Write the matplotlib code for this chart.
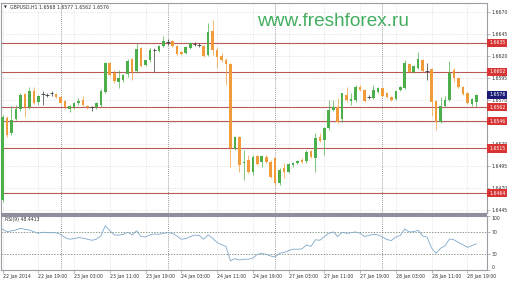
import numpy as np
import matplotlib
matplotlib.use("Agg")
import matplotlib.pyplot as plt
from matplotlib.patches import Rectangle

plt.rcParams['font.family'] = ['DejaVu Sans']

# ---------------- data ----------------
symbol_title = "GBPUSD,H1 1.6568 1.6577 1.6562 1.6576"
watermark = "www.freshforex.ru"
rsi_title = "RSI(9) 48.4413"

opens = [
    1.6456, 1.6550, 1.6532, 1.6548, 1.6560, 1.6577, 1.6562, 1.6580, 1.6568, 1.6577,
    1.6576, 1.6578, 1.6577, 1.6573, 1.6569, 1.6560, 1.6562, 1.6567, 1.6570, 1.6563,
    1.6562, 1.6562, 1.6564, 1.6579, 1.6612, 1.6601, 1.6590, 1.6593, 1.6600, 1.6617,
    1.6603, 1.6629, 1.6610, 1.6615, 1.6627, 1.6626, 1.6631, 1.6636, 1.6637, 1.6631,
    1.6625, 1.6623, 1.6629, 1.6634, 1.6633, 1.6631, 1.6621, 1.6648, 1.6627, 1.6620,
    1.6616, 1.6611, 1.6514, 1.6528, 1.6498, 1.6502, 1.6488, 1.6506, 1.6500, 1.6505,
    1.6500, 1.6504, 1.6476, 1.6493, 1.6488, 1.6496, 1.6498, 1.6502, 1.6501, 1.6512,
    1.6504, 1.6528, 1.6525, 1.6538, 1.6559, 1.6562, 1.6548, 1.6576, 1.6569, 1.6570,
    1.6585, 1.6581, 1.6573, 1.6572, 1.6579, 1.6584, 1.6578, 1.6573, 1.6571, 1.6581,
    1.6584, 1.6611, 1.6602, 1.6606, 1.6616, 1.6603, 1.6605, 1.6569, 1.6545, 1.6563,
    1.6570, 1.6604, 1.6595, 1.6585, 1.6578, 1.6566, 1.6568]

highs = [
    1.6553, 1.6552, 1.6563, 1.6564, 1.6578, 1.6578, 1.6585, 1.6585, 1.6576, 1.6580,
    1.6578, 1.6580, 1.6578, 1.6575, 1.6570, 1.6564, 1.6568, 1.6572, 1.6575, 1.6564,
    1.6563, 1.6568, 1.6583, 1.6613, 1.6613, 1.6604, 1.6604, 1.6600, 1.6617, 1.6618,
    1.6635, 1.6630, 1.6616, 1.6629, 1.6629, 1.6633, 1.6643, 1.6639, 1.6638, 1.6633,
    1.6626, 1.6631, 1.6636, 1.6636, 1.6635, 1.6633, 1.6658, 1.6661, 1.6630, 1.6623,
    1.6618, 1.6612, 1.6529, 1.6529, 1.6513, 1.6508, 1.6508, 1.6508, 1.6508, 1.6507,
    1.6502, 1.6505, 1.6493, 1.6498, 1.6498, 1.6500, 1.6502, 1.6504, 1.6513, 1.6513,
    1.6532, 1.6533, 1.6539, 1.6570, 1.6570, 1.6572, 1.6578, 1.6585, 1.6578, 1.6587,
    1.6587, 1.6582, 1.6576, 1.6587, 1.6585, 1.6585, 1.6579, 1.6575, 1.6581, 1.6586,
    1.6616, 1.6612, 1.6610, 1.6625, 1.6617, 1.6612, 1.6606, 1.6570, 1.6573, 1.6574,
    1.6614, 1.6606, 1.6596, 1.6586, 1.6579, 1.6572, 1.6577]

lows = [
    1.6454, 1.6528, 1.6530, 1.6547, 1.6557, 1.6551, 1.6560, 1.6565, 1.6564, 1.6564,
    1.6573, 1.6575, 1.6572, 1.6565, 1.6560, 1.6556, 1.6560, 1.6564, 1.6563, 1.6560,
    1.6558, 1.6560, 1.6562, 1.6578, 1.6597, 1.6589, 1.6584, 1.6590, 1.6596, 1.6593,
    1.6601, 1.6607, 1.6609, 1.6613, 1.6602, 1.6625, 1.6630, 1.6633, 1.6630, 1.6621,
    1.6621, 1.6622, 1.6628, 1.6631, 1.6630, 1.6619, 1.6620, 1.6621, 1.6606, 1.6613,
    1.6587, 1.6494, 1.6513, 1.6488, 1.6479, 1.6487, 1.6485, 1.6496, 1.6494, 1.6498,
    1.6481, 1.6473, 1.6473, 1.6481, 1.6487, 1.6494, 1.6497, 1.6498, 1.6498, 1.6504,
    1.6488, 1.6522, 1.6508, 1.6536, 1.6558, 1.6544, 1.6545, 1.6568, 1.6564, 1.6568,
    1.6580, 1.6568, 1.6571, 1.6571, 1.6578, 1.6573, 1.6572, 1.6569, 1.6570, 1.6580,
    1.6583, 1.6601, 1.6601, 1.6605, 1.6602, 1.6593, 1.6552, 1.6536, 1.6544, 1.6562,
    1.6569, 1.6590, 1.6584, 1.6576, 1.6565, 1.6563, 1.6562]

closes = [
    1.6551, 1.6530, 1.6547, 1.6560, 1.6576, 1.6562, 1.6580, 1.6567, 1.6575, 1.6577,
    1.6576, 1.6578, 1.6573, 1.6567, 1.6562, 1.6563, 1.6567, 1.6569, 1.6564, 1.6562,
    1.6562, 1.6567, 1.6580, 1.6612, 1.6598, 1.6592, 1.6595, 1.6598, 1.6614, 1.6602,
    1.6628, 1.6609, 1.6615, 1.6627, 1.6627, 1.6631, 1.6637, 1.6636, 1.6631, 1.6622,
    1.6622, 1.6630, 1.6635, 1.6634, 1.6633, 1.6620, 1.6647, 1.6627, 1.6619, 1.6616,
    1.6611, 1.6515, 1.6528, 1.6496, 1.6500, 1.6488, 1.6505, 1.6497, 1.6506, 1.6500,
    1.6482, 1.6476, 1.6490, 1.6488, 1.6497, 1.6498, 1.6501, 1.6500, 1.6511, 1.6505,
    1.6527, 1.6523, 1.6538, 1.6559, 1.6562, 1.6545, 1.6578, 1.6570, 1.6571, 1.6585,
    1.6581, 1.6569, 1.6573, 1.6581, 1.6584, 1.6575, 1.6573, 1.6570, 1.6580, 1.6585,
    1.6612, 1.6602, 1.6609, 1.6617, 1.6603, 1.6603, 1.6568, 1.6545, 1.6563, 1.6570,
    1.6601, 1.6595, 1.6585, 1.6577, 1.6567, 1.6571, 1.6576]

rsi = [
    75.5, 71, 72.5, 74, 77, 75.5, 74, 71, 68, 70,
    69, 69, 69, 66, 60, 57, 58, 60, 59, 57,
    55, 57, 63, 82, 73, 65, 64.5, 66, 70, 65,
    72.5, 62, 61, 65, 67, 66, 68, 69, 68, 63,
    57, 58, 62, 64.5, 64, 57, 65, 59, 51, 47,
    43.5, 17, 21, 18.5, 20, 20, 22, 29, 30.6, 29,
    26, 24, 31, 32.5, 36, 38.5, 38.5, 39, 46.5, 43.5,
    56, 55, 62, 68, 70.5, 62, 70, 68, 69, 70.5,
    68, 62, 64, 66, 65, 61, 56.5, 54.5, 61, 64,
    76, 70.5, 71, 73.5, 63, 61, 40.5, 31, 40, 45,
    57.5, 56, 51, 47, 42, 45, 48.44]

levels = [1.6635, 1.6602, 1.6562, 1.6546, 1.6515, 1.6464]
current_price = 1.6576
price_ticks = [1.6670, 1.6645, 1.6620, 1.6595, 1.6570, 1.6545, 1.6520, 1.6495, 1.6470, 1.6445]
hidden_price_ticks = [1.6545]   # covered by the 1.6546 level label in the reference
rsi_ticks = [0, 30, 70, 100]
rsi_levels = [30, 70]

time_tick_bars = [0, 8, 16, 24, 32, 40, 48, 56, 64, 72, 80, 88, 96, 104]
time_tick_labels = ["22 Jan 2014", "22 Jan 19:00", "23 Jan 03:00", "23 Jan 11:00",
                    "23 Jan 19:00", "24 Jan 03:00", "24 Jan 11:00", "24 Jan 19:00",
                    "27 Jan 03:00", "27 Jan 11:00", "27 Jan 19:00", "28 Jan 03:00",
                    "28 Jan 11:00", "28 Jan 19:00"]
day_start_bars = [13, 37, 61, 85]

# ---------------- style ----------------
W, H = 510, 283
BULL = '#4caf4c'
BEAR = '#f29b3a'
DOJI = '#3a3a3a'
LEVEL_LINE = '#b85a56'
LEVEL_BOX = '#d83434'
CUR_BOX = '#1c1c78'
FRAME = '#9c9ca4'
GRID = '#d6d6d6'
TXT = '#303030'
FS = 3.3


def px_rect(x0, y0, x1, y1):
    return [x0 / W, 1 - y1 / H, (x1 - x0) / W, (y1 - y0) / H]


fig = plt.figure(figsize=(W / 100, H / 100), dpi=100)
fig.patch.set_facecolor('white')

ax = fig.add_axes(px_rect(1, 3, 487, 213))
ax2 = fig.add_axes(px_rect(1, 216, 487, 270), sharex=ax)

n = len(opens)
x = np.arange(n)
o = np.array(opens)
h = np.array(highs)
l = np.array(lows)
c = np.array(closes)

ax.set_xlim(-0.34, 108.4)
ax.set_ylim(1.64416, 1.66802)

# grid
ax.set_yticks(price_ticks)
ax.set_yticklabels(["" if p in hidden_price_ticks else f"{p:.4f}" for p in price_ticks])
ax.set_xticks(time_tick_bars)
ax.grid(True, color=GRID, linestyle=(0, (1, 1.5)), linewidth=0.5, zorder=0)
ax.set_axisbelow(True)

# level lines
for lv in levels:
    ax.axhline(lv, color=LEVEL_LINE, linewidth=0.8, zorder=1.5)

# day separators
for d in day_start_bars:
    ax.axvline(d, color='#404040', linestyle=(0, (1, 2)), linewidth=0.5, zorder=1.6)
    ax2.axvline(d, color='#404040', linestyle=(0, (1, 2)), linewidth=0.5, zorder=1.6)

# candles
is_doji = o == c
is_bull = c > o
colors = np.where(is_doji, DOJI, np.where(is_bull, BULL, BEAR))
ax.vlines(x, l, h, colors=colors, linewidth=0.5, zorder=3)
body_mask = ~is_doji
ax.bar(x[body_mask], np.abs(c - o)[body_mask], bottom=np.minimum(o, c)[body_mask],
       width=0.58, color=colors[body_mask], linewidth=0, zorder=4)
ax.hlines(o[is_doji], x[is_doji] - 0.4, x[is_doji] + 0.4, colors=DOJI, linewidth=0.6, zorder=4)

# axes styling
ax.yaxis.tick_right()
ax.tick_params(axis='y', length=2, width=0.5, pad=1.5, labelsize=FS, colors=FRAME, labelcolor=TXT)
ax.tick_params(axis='x', length=0, labelbottom=False)
for s in ax.spines.values():
    s.set_color(FRAME)
    s.set_linewidth(0.8)

# right-side labels for levels and current price
for lv in levels:
    ax.text(1.004, lv, f"{lv:.4f}", transform=ax.get_yaxis_transform(), fontsize=FS,
            color='white', va='center', ha='left', clip_on=False, zorder=10,
            bbox=dict(boxstyle='square,pad=0.35', fc=LEVEL_BOX, ec='none'))
ax.text(1.004, current_price, f"{current_price:.4f}", transform=ax.get_yaxis_transform(),
        fontsize=FS, color='white', va='center', ha='left', clip_on=False, zorder=11,
        bbox=dict(boxstyle='square,pad=0.35', fc=CUR_BOX, ec='none'))

# RSI panel
ax2.set_ylim(0, 100)
ax2.plot(x, rsi, color='#7fa8c8', linewidth=0.6, zorder=3)
for lvl in rsi_levels:
    ax2.axhline(lvl, color='#5b735b', linestyle=(0, (2, 2)), linewidth=0.5, zorder=2)
ax2.yaxis.tick_right()
ax2.set_yticks(rsi_ticks)
ax2.set_yticklabels([str(t) for t in rsi_ticks])
ax2.tick_params(axis='y', length=2, width=0.5, pad=1.5, labelsize=FS, colors=FRAME, labelcolor=TXT)
for lbl, t in zip(ax2.get_yticklabels(), rsi_ticks):
    if t == 100:
        lbl.set_va('top')
    elif t == 0:
        lbl.set_va('bottom')
ax2.set_xticks(time_tick_bars)
ax2.set_xticklabels(time_tick_labels)
ax2.tick_params(axis='x', length=2, width=0.5, pad=1.2, labelsize=FS, colors=FRAME, labelcolor=TXT)
for lbl in ax2.get_xticklabels():
    lbl.set_ha('left')
ax2.grid(True, axis='x', color=GRID, linestyle=(0, (1, 1.5)), linewidth=0.5, zorder=0)
ax2.set_axisbelow(True)
for s in ax2.spines.values():
    s.set_color(FRAME)
    s.set_linewidth(0.8)

# separator bar between panels
fig.add_artist(Rectangle((1 / W, 1 - 216.5 / H), 486 / W, 3.5 / H, transform=fig.transFigure,
                         facecolor='#8e8e9c', edgecolor='none'))

# texts
fig.text(3.5 / W, 1 - 7.5 / H, '\u25BC', fontsize=2.6, color='#303030', va='center', ha='left')
fig.text(10 / W, 1 - 7.5 / H, symbol_title, fontsize=FS, color=TXT, va='center', ha='left')
fig.text(333 / W, 1 - 26 / H, watermark, fontsize=13.7, color='#43ad5f', ha='center',
         va='baseline', family=['Liberation Sans', 'DejaVu Sans'], zorder=20)
fig.text(5 / W, 1 - 220 / H, rsi_title, fontsize=FS, color=TXT, va='center', ha='left')

fig.savefig('out.png', dpi=100, facecolor='white')
